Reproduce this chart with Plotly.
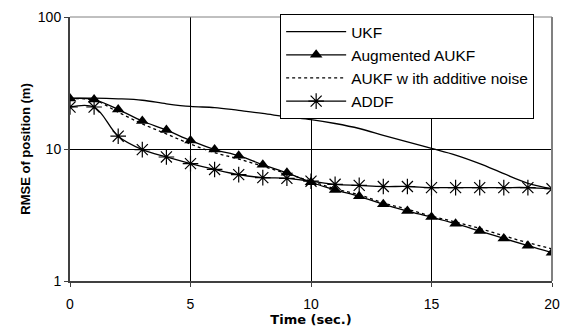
import plotly.graph_objects as go

t = list(range(0, 21))
ukf = [24.3, 24.3, 24.0, 23.4, 22.0, 21.0, 20.6, 19.6, 18.6, 17.5, 16.7, 15.6, 14.3, 12.7, 11.3, 10.1, 9.0, 7.75, 6.5, 5.5, 5.0]
aug_aukf = [24.1, 23.7, 19.9, 16.3, 13.9, 11.6, 9.9, 8.9, 7.6, 6.6, 5.6, 4.9, 4.38, 3.81, 3.39, 3.05, 2.72, 2.39, 2.1, 1.85, 1.64]
aukf_add = [24.0, 23.5, 19.0, 15.5, 13.0, 10.9, 9.4, 8.4, 7.4, 6.5, 5.7, 5.0, 4.5, 3.9, 3.5, 3.1, 2.8, 2.5, 2.2, 1.95, 1.75]
addf = [20.8, 20.8, 12.5, 9.9, 8.7, 7.75, 7.0, 6.4, 6.07, 6.0, 5.7, 5.4, 5.3, 5.2, 5.2, 5.1, 5.1, 5.1, 5.1, 5.1, 5.0]

names = ["UKF", "Augmented AUKF", "AUKF w ith additive noise", "ADDF"]

fig = go.Figure()
fig.add_trace(go.Scatter(x=t, y=ukf, name=names[0], mode="lines",
                         line=dict(color="black", width=1.3, shape="spline")))
fig.add_trace(go.Scatter(x=t, y=aug_aukf, name=names[1], mode="lines+markers",
                         line=dict(color="black", width=1.3, shape="spline"),
                         marker=dict(symbol="triangle-up", size=11, color="black")))
fig.add_trace(go.Scatter(x=t, y=aukf_add, name=names[2], mode="lines",
                         line=dict(color="black", width=1.3, dash="3px,3px", shape="spline")))
fig.add_trace(go.Scatter(x=t, y=addf, name=names[3], mode="lines+markers",
                         line=dict(color="black", width=1.3, shape="spline"),
                         marker=dict(symbol="asterisk-open", size=13, color="black",
                                     line=dict(color="black", width=1.2))))

fig.update_layout(
    width=569, height=335,
    margin=dict(l=70, r=17, t=17, b=54),
    paper_bgcolor="white", plot_bgcolor="white",
    font=dict(family="Liberation Sans, Arial, sans-serif", size=14, color="black"),
    showlegend=True,
    legend=dict(x=0.436, y=1.011, xanchor="left", yanchor="top",
                bgcolor="white", bordercolor="black", borderwidth=1,
                font=dict(size=15.5), tracegroupgap=0, itemwidth=60,
                traceorder="normal"),
    xaxis=dict(range=[0, 20], tickvals=[0, 5, 10, 15, 20],
               showgrid=True, gridcolor="black", gridwidth=1,
               showline=True, linecolor="#404040", linewidth=2,
               ticks="outside", ticklen=4, tickcolor="#404040",
               tickfont=dict(size=14), ticklabelstandoff=5,
               zeroline=False, automargin=False,
               title=dict(text="<b>Time (sec.)</b>",
                          font=dict(size=13, family="DejaVu Sans"), standoff=4)),
    yaxis=dict(type="log", range=[0, 2], tickvals=[1, 10, 100], ticktext=["1", "10", "100"],
               showgrid=True, gridcolor="black", gridwidth=1,
               showline=True, linecolor="#404040", linewidth=2,
               ticks="outside", ticklen=4, tickcolor="#404040",
               tickfont=dict(size=14),
               zeroline=False, automargin=False,
               title=dict(text="<b>RMSE of position (m)</b>", font=dict(size=13), standoff=4)),
)
fig.add_shape(type="line", xref="paper", yref="paper", x0=1, x1=1, y0=0, y1=1,
              line=dict(color="#808080", width=2))
fig.add_shape(type="line", xref="paper", yref="paper", x0=0, x1=1, y0=1, y1=1,
              line=dict(color="#808080", width=1))

fig.write_html("out.html")
